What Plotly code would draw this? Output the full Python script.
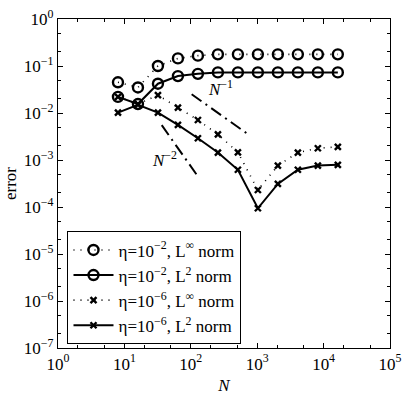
import plotly.graph_objects as go

N = [8, 16, 32, 64, 128, 256, 512, 1024, 2048, 4096, 8192, 16384]

err_e2_inf = [0.045, 0.035, 0.10, 0.145, 0.166, 0.177, 0.177, 0.177, 0.177, 0.177, 0.177, 0.177]
err_e2_l2 = [0.022, 0.0155, 0.042, 0.061, 0.068, 0.073, 0.073, 0.073, 0.073, 0.073, 0.073, 0.073]
err_e6_inf = [0.022, 0.0155, 0.024, 0.013, 0.0071, 0.0035, 0.00146, 0.00023, 0.00076, 0.00144, 0.00178, 0.0019]
err_e6_l2 = [0.0102, 0.015, 0.0102, 0.0056, 0.0029, 0.00144, 0.00062, 0.000094, 0.00031, 0.00062, 0.00076, 0.00079]

# reference slopes
ref1_n = [103, 740]
ref1_y = [0.025, 0.025 * 103 / 740]
ref2_n = [36.5, 129]
ref2_y = [0.0055, 0.0055 * (36.5 / 129) ** 2]

x_ticks = [1, 10, 100, 1000, 10000, 100000]
x_text = ["10<sup>%d</sup>" % k for k in range(6)]
y_ticks = [10.0 ** -k for k in range(8)]
y_text = ["10<sup>0</sup>"] + ["10<sup>\u2212%d</sup>" % k for k in range(1, 8)]

FONT = "Liberation Serif"

fig = go.Figure()

circle = dict(symbol="circle-open", size=10, line=dict(width=2.4, color="black"), color="black")
cross = dict(symbol="x-thin-open", size=6, line=dict(width=2.4, color="black"), color="black")
dotted = dict(color="black", dash="1px,6px", width=1.6)
solid = dict(color="black", width=2)

fig.add_trace(go.Scatter(x=N, y=err_e2_inf, mode="lines+markers", line=dotted, marker=circle,
                         name="\u03b7=10<sup>\u22122</sup>, L<sup>\u221e</sup> norm"))
fig.add_trace(go.Scatter(x=N, y=err_e2_l2, mode="lines+markers", line=solid, marker=circle,
                         name="\u03b7=10<sup>\u22122</sup>, L<sup>2</sup> norm"))
fig.add_trace(go.Scatter(x=N, y=err_e6_inf, mode="lines+markers", line=dotted, marker=cross,
                         name="\u03b7=10<sup>\u22126</sup>, L<sup>\u221e</sup> norm"))
fig.add_trace(go.Scatter(x=N, y=err_e6_l2, mode="lines+markers", line=solid, marker=cross,
                         name="\u03b7=10<sup>\u22126</sup>, L<sup>2</sup> norm"))

for xs, ys in [(ref1_n, ref1_y), (ref2_n, ref2_y)]:
    fig.add_trace(go.Scatter(x=xs, y=ys, mode="lines", showlegend=False,
                             line=dict(color="black", dash="12px,5px,2px,5px", width=2)))

fig.add_annotation(x=2.45, y=-1.47, xref="x", yref="y", text="<i>N</i><sup>\u22121</sup>",
                   showarrow=False, font=dict(family=FONT, size=17, color="black"))
fig.add_annotation(x=1.6, y=-2.98, xref="x", yref="y", text="<i>N</i><sup>\u22122</sup>",
                   showarrow=False, font=dict(family=FONT, size=17, color="black"))

axis_common = dict(type="log", showgrid=False, zeroline=False, showline=True, linecolor="black",
                   linewidth=1.2, mirror="ticks", ticks="inside", ticklen=5, tickcolor="black",
                   automargin=False, ticklabeloverflow="allow",
                   minor=dict(ticks="inside", ticklen=3, tickcolor="black"),
                   tickfont=dict(family=FONT, size=17, color="black"))

fig.update_xaxes(range=[0, 5], tickvals=x_ticks, ticktext=x_text,
                 title=dict(text="<i>N</i>", font=dict(family=FONT, size=17, color="black"), standoff=6),
                 **axis_common)
fig.update_yaxes(range=[-7, 0], tickvals=y_ticks, ticktext=y_text,
                 title=dict(text="error", font=dict(family=FONT, size=17, color="black"), standoff=2),
                 **axis_common)

fig.update_layout(
    width=407, height=396,
    margin=dict(l=58, r=17, t=19, b=48),
    plot_bgcolor="white", paper_bgcolor="white",
    font=dict(family=FONT, size=17, color="black"),
    legend=dict(x=0.028, y=0.355, xanchor="left", yanchor="top", bgcolor="white",
                bordercolor="black", borderwidth=1.2, tracegroupgap=0, itemwidth=40,
                font=dict(family=FONT, size=17, color="black")),
)

# drop the default 8px body margin so the figure sits at the page corner
fig.write_html("out.html", config={"displayModeBar": False},
               post_script="document.body.style.margin='0';")
